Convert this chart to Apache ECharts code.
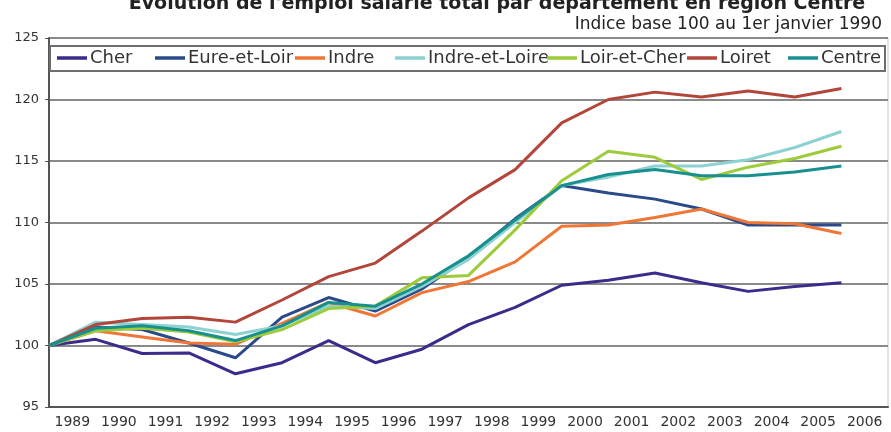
<!DOCTYPE html>
<html>
<head>
<meta charset="utf-8">
<script src="https://cdn.jsdelivr.net/npm/echarts@6/dist/echarts.min.js"></script>
<style>
    html, body { margin: 0; padding: 0; background: #fff; }
    #chart { width: 891px; height: 432px; }
</style>
</head>
<body>
<div id="chart"></div>
<script>
// Indice base 100 au 1er janvier 1990
const years = ['1989', '1990', '1991', '1992', '1993', '1994', '1995', '1996', '1997',
    '1998', '1999', '2000', '2001', '2002', '2003', '2004', '2005', '2006']

const cher = [100, 100.5, 99.35, 99.4, 97.7, 98.6, 100.4, 98.6, 99.7, 101.7, 103.1, 104.9, 105.3, 105.9, 105.1, 104.4, 104.8, 105.1]
const eureEtLoir = [100, 101.5, 101.3, 100.2, 99.0, 102.3, 103.9, 102.8, 104.6, 107.2, 110.3, 113.0, 112.4, 111.9, 111.1, 109.8, 109.8, 109.8]
const indre = [100, 101.2, 100.7, 100.2, 100.1, 101.8, 103.5, 102.4, 104.3, 105.2, 106.8, 109.7, 109.8, 110.4, 111.1, 110.0, 109.9, 109.1]
const indreEtLoire = [100, 101.9, 101.7, 101.5, 100.9, 101.6, 103.2, 103.0, 104.8, 107.0, 110.0, 113.0, 113.7, 114.6, 114.6, 115.1, 116.1, 117.4]
const loirEtCher = [100, 101.2, 101.4, 101.1, 100.3, 101.3, 103.0, 103.2, 105.5, 105.7, 109.4, 113.4, 115.8, 115.3, 113.5, 114.5, 115.2, 116.2]
const loiret = [100, 101.7, 102.2, 102.3, 101.9, 103.7, 105.6, 106.7, 109.3, 112.0, 114.3, 118.1, 120.0, 120.6, 120.2, 120.7, 120.2, 120.9]
const centre = [100, 101.4, 101.6, 101.2, 100.4, 101.6, 103.5, 103.2, 105.0, 107.3, 110.2, 113.0, 113.9, 114.3, 113.8, 113.8, 114.1, 114.6]

const yTicks = { min: 95, max: 125, step: 5 }

const names = ['Cher', 'Eure-et-Loir', 'Indre', 'Indre-et-Loire', 'Loir-et-Cher', 'Loiret', 'Centre']
const values = [cher, eureEtLoir, indre, indreEtLoire, loirEtCher, loiret, centre]
const colors = ['#3d2b8c', '#2b4a8a', '#f07636', '#8dd2d2', '#9ccb3b', '#b2463a', '#17908e']
const legendLeft = [57, 155, 295, 395, 547, 687, 788] // positions des items de la légende

const font = 'DejaVu Sans'

const chart = echarts.init(document.getElementById('chart'))

chart.setOption({
    animation: false,
    title: [
        {
            text: "Évolution de l'emploi salarié total par département en région Centre",
            left: 492,
            top: -10,
            textAlign: 'center',
            textStyle: { fontFamily: font, fontSize: 19, fontWeight: 'bold', color: '#222' },
        },
        {
            text: 'Indice base 100 au 1er janvier 1990',
            right: 4,
            top: 11,
            textStyle: { fontFamily: font, fontSize: 17, fontWeight: 'normal', color: '#222' },
        },
    ],
    graphic: [
        {
            type: 'rect',
            z: 1,
            shape: { x: 50, y: 46, width: 835, height: 25 },
            style: { fill: '#fff', stroke: '#6e6e6e', lineWidth: 2 },
        },
    ],
    legend: names.map((name, i) => ({
        data: [name],
        left: legendLeft[i],
        top: 49,
        icon: 'rect',
        itemWidth: 30,
        itemHeight: 3.5,
        itemGap: 0,
        padding: 0,
        selectedMode: false,
        textStyle: { fontFamily: font, fontSize: 18, color: '#333', padding: [0, 0, 0, -2] },
    })),
    grid: {
        left: 49,
        right: 3,
        top: 38,
        bottom: 25,
        show: true,
        borderColor: '#c8c8c8',
        borderWidth: 1,
    },
    xAxis: [
        {
            type: 'value',
            min: 0,
            max: 18,
            show: false,
        },
        {
            type: 'category',
            data: years,
            position: 'bottom',
            boundaryGap: true,
            axisLine: { lineStyle: { color: '#555', width: 2 } },
            axisTick: { inside: true, length: 3, interval: 0, lineStyle: { color: '#555' } },
            axisLabel: { interval: 0, margin: 8, fontFamily: font, fontSize: 14, color: '#333' },
            splitLine: { show: false },
        },
    ],
    yAxis: {
        type: 'value',
        min: yTicks.min,
        max: yTicks.max,
        interval: yTicks.step,
        axisLine: { show: true, lineStyle: { color: '#555', width: 2 } },
        axisTick: { show: true, length: 4, lineStyle: { color: '#555' } },
        axisLabel: { margin: 10, fontFamily: font, fontSize: 13, color: '#333' },
        splitLine: { lineStyle: { color: '#8a8a8a', width: 2 } },
    },
    series: names.map((name, i) => ({
        name: name,
        type: 'line',
        xAxisIndex: 0,
        data: values[i].map((v, k) => [k, v]),
        showSymbol: false,
        color: colors[i],
        lineStyle: { color: colors[i], width: 3 },
    })),
})
</script>
</body>
</html>
